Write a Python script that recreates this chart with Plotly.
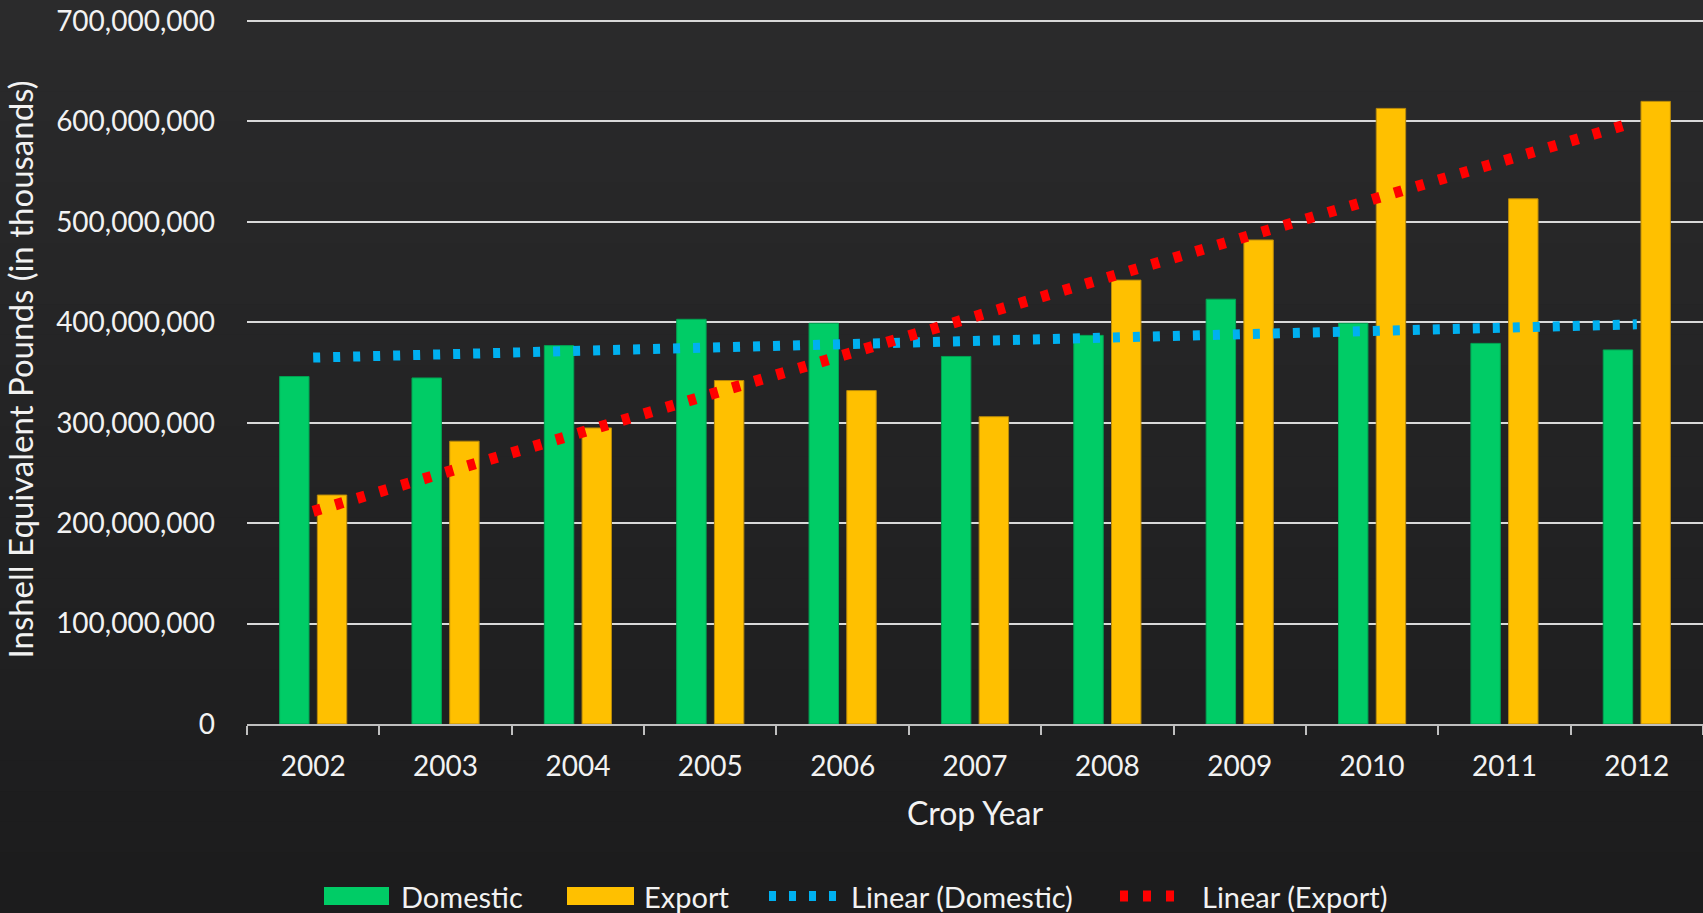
import numpy as np
import plotly.graph_objects as go

years = ["2002", "2003", "2004", "2005", "2006", "2007", "2008", "2009", "2010", "2011", "2012"]
domestic = [346e6, 344.6e6, 376.8e6, 403e6, 399e6, 366e6, 387e6, 423e6, 399e6, 379e6, 372.5e6]
export = [228e6, 281.6e6, 294.8e6, 342e6, 332e6, 306e6, 442e6, 482e6, 613e6, 523e6, 620e6]
y_ticks = [0, 100e6, 200e6, 300e6, 400e6, 500e6, 600e6, 700e6]

# linear trendlines (least squares, as Excel "Linear" trendline)
idx = np.arange(len(years))
dom_fit = np.polyval(np.polyfit(idx, domestic, 1), idx)
exp_fit = np.polyval(np.polyfit(idx, export, 1), idx)

GREEN = "#00CC66"
GOLD = "#FFC000"
BLUE = "#00B0F0"
RED = "#FF0000"
TXT = "#F2F2F2"
FONT = "Lato"

W, H = 1703, 913
L, R, T, B = 247, 0, 15, 189
PW, PH = W - L - R, H - T - B


def px(x):
    return (x - L) / PW


def py(y):
    return (H - B - y) / PH


BLUE_DASH = "7px,13px"
RED_DASH = "8px,15px"

fig = go.Figure()
fig.add_trace(go.Bar(x=years, y=domestic, name="Domestic",
                     marker=dict(color=GREEN, line=dict(color="#00A352", width=1))))
fig.add_trace(go.Bar(x=years, y=export, name="Export",
                     marker=dict(color=GOLD, line=dict(color="#B8890A", width=1))))
fig.add_trace(go.Scatter(x=years, y=dom_fit, mode="lines", name="Linear (Domestic)",
                         line=dict(color=BLUE, width=10, dash=BLUE_DASH)))
fig.add_trace(go.Scatter(x=years, y=exp_fit, mode="lines", name="Linear (Export)",
                         line=dict(color=RED, width=11, dash=RED_DASH)))

shapes = []
# background vertical gradient
n = 30
top_c = np.array([0x2B, 0x2B, 0x2C])
bot_c = np.array([0x1C, 0x1C, 0x1D])
for i in range(n):
    c = top_c + (bot_c - top_c) * (i / (n - 1))
    y0 = i * H / n
    y1 = (i + 1) * H / n + 1
    shapes.append(dict(type="rect", xref="paper", yref="paper", layer="below",
                       x0=px(0), x1=px(W), y0=py(y1), y1=py(y0),
                       line=dict(width=0),
                       fillcolor="rgb(%d,%d,%d)" % tuple(int(v) for v in c)))

# custom legend
LY = 896
shapes.append(dict(type="rect", xref="paper", yref="paper", x0=px(324), x1=px(389),
                   y0=py(905), y1=py(887), fillcolor=GREEN, line=dict(width=0)))
shapes.append(dict(type="rect", xref="paper", yref="paper", x0=px(567), x1=px(634),
                   y0=py(905), y1=py(887), fillcolor=GOLD, line=dict(width=0)))
shapes.append(dict(type="line", xref="paper", yref="paper", x0=px(769), x1=px(840),
                   y0=py(LY), y1=py(LY), line=dict(color=BLUE, width=10, dash=BLUE_DASH)))
shapes.append(dict(type="line", xref="paper", yref="paper", x0=px(1120), x1=px(1180),
                   y0=py(LY), y1=py(LY), line=dict(color=RED, width=11, dash=RED_DASH)))

annotations = []
for label, x0 in [("Domestic", 399), ("Export", 642), ("Linear (Domestic)", 849), ("Linear (Export)", 1200)]:
    annotations.append(dict(text=label, xref="paper", yref="paper", x=px(x0), y=py(LY),
                            xanchor="left", yanchor="middle", showarrow=False,
                            font=dict(family=FONT, size=29, color=TXT)))

fig.update_layout(
    width=W, height=H,
    margin=dict(l=L, r=R, t=T, b=B, autoexpand=False),
    paper_bgcolor="#242425", plot_bgcolor="rgba(0,0,0,0)",
    font=dict(family=FONT, size=28, color=TXT),
    barmode="group", bargap=0.43, bargroupgap=0.22,
    showlegend=False,
    shapes=shapes, annotations=annotations,
    xaxis=dict(type="category", tickson="boundaries", ticks="outside", ticklen=9,
               tickcolor="#BFBFBF", tickwidth=2, showline=True, linecolor="#BFBFBF",
               linewidth=2, showgrid=False, ticklabelstandoff=16,
               tickfont=dict(family=FONT, size=28, color=TXT),
               title=dict(text="Crop Year", font=dict(family=FONT, size=32, color=TXT),
                          standoff=22),
               automargin=False),
    yaxis=dict(range=[0, 706e6], tickvals=y_ticks, tickformat=",", showgrid=True,
               gridcolor="#D9D9D9", gridwidth=2, zeroline=False, showline=False,
               ticks="", ticklabelstandoff=31,
               tickfont=dict(family=FONT, size=28, color=TXT),
               title=dict(text="Inshell Equivalent Pounds (in thousands)",
                          font=dict(family=FONT, size=33, color=TXT), standoff=12),
               automargin=False),
)

fig.write_html("out.html", config={"displayModeBar": False},
               post_script="document.body.style.margin='0';document.body.style.background='#242425';")
